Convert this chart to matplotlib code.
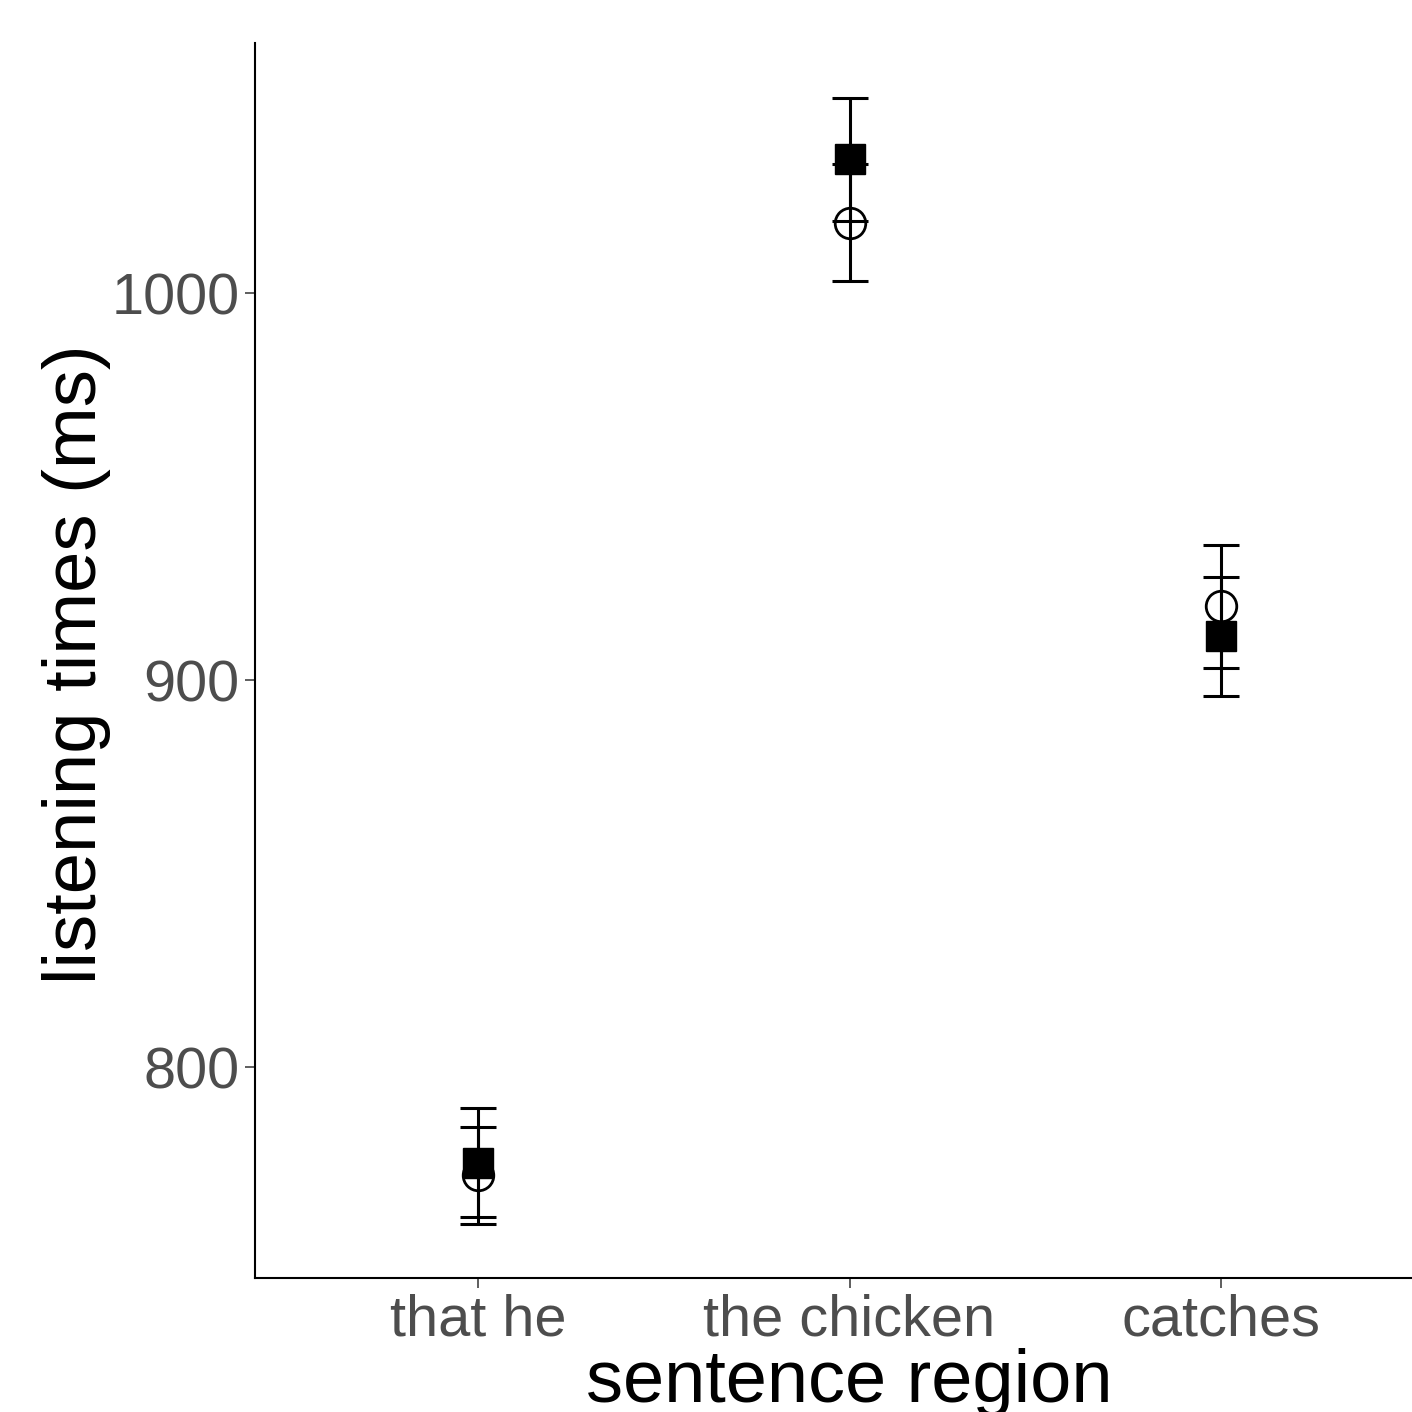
import numpy as np
from matplotlib import pyplot as plt

#%% Données
regions = ['that he', 'the chicken', 'catches']

# condition "carré plein"
sq_mean = [775.2, 1034.5, 911.3]
sq_low = [761.2, 1018.7, 896.0]
sq_high = [789.3, 1050.3, 926.7]

# condition "cercle vide"
ci_mean = [772.0, 1018.2, 919.1]
ci_low = [759.5, 1003.2, 903.2]
ci_high = [784.6, 1033.3, 934.9]

yticks = [800, 900, 1000]

#%% Figure
plt.rcParams['font.family'] = ['Liberation Sans', 'DejaVu Sans']

fig = plt.figure(figsize=(14.12, 14.12), dpi=100)
ax = fig.add_axes([255/1412, 1 - 1278/1412, 1189/1412, 1235/1412])

x = np.arange(1, len(regions) + 1)
ci_err = [np.array(ci_mean) - np.array(ci_low), np.array(ci_high) - np.array(ci_mean)]
sq_err = [np.array(sq_mean) - np.array(sq_low), np.array(sq_high) - np.array(sq_mean)]

ax.errorbar(x, ci_mean, yerr=ci_err, fmt='none', ecolor='black',
            elinewidth=2.2, capsize=13.3, capthick=2.2, zorder=2)
ax.errorbar(x, sq_mean, yerr=sq_err, fmt='none', ecolor='black',
            elinewidth=2.2, capsize=13.3, capthick=2.2, zorder=2)
ax.plot(x, ci_mean, 'o', ms=22, mfc='none', mec='black', mew=2.0, zorder=3)
ax.plot(x, sq_mean, 's', ms=22, mfc='black', mec='black', zorder=4)

ax.set_xlim(0.4, 3.6)
ax.set_ylim(745.5, 1064.6)
ax.set_xticks(x)
ax.set_xticklabels(regions)
ax.set_yticks(yticks)

for side in ['top', 'right']:
    ax.spines[side].set_visible(False)
for side in ['left', 'bottom']:
    ax.spines[side].set_linewidth(1.5)
    ax.spines[side].set_color('black')

ax.tick_params(axis='both', length=7, width=1.1, color='#333333',
               labelsize=41.5, labelcolor='#4D4D4D')
ax.tick_params(axis='x', pad=4)
ax.tick_params(axis='y', pad=4)

ax.set_xlabel('sentence region', fontsize=53.3, va='baseline')
ax.xaxis.set_label_coords(0.5, -0.1004)
ax.set_ylabel('listening times (ms)', fontsize=53.5, va='baseline')
ax.yaxis.set_label_coords(-0.1337, 0.497)

fig.savefig('out.png', dpi=100)
